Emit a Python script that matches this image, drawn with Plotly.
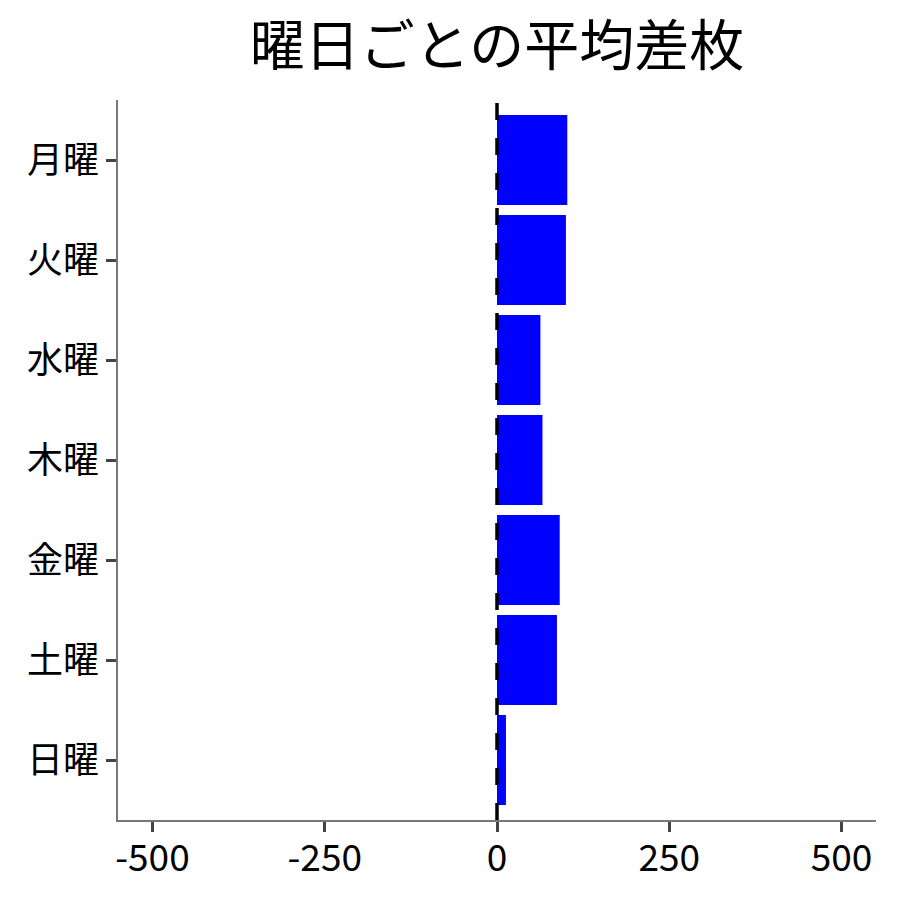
import plotly.graph_objects as go

days = ["月曜", "火曜", "水曜", "木曜", "金曜", "土曜", "日曜"]
avg_diff = [102, 100, 63, 66, 91, 87, 13]
x_ticks = [-500, -250, 0, 250, 500]
title_text = "曜日ごとの平均差枚"

FONT = "Noto Sans CJK JP"

fig = go.Figure()
fig.add_trace(go.Bar(
    x=avg_diff, y=days, orientation="h",
    marker=dict(color="#0000ff", line=dict(width=0)),
    width=0.9,
))
fig.add_shape(type="line", xref="x", yref="paper", x0=0, x1=0, y0=0, y1=1,
              line=dict(color="black", width=3.5, dash="17px,18px"), layer="above")

W = 892
fig.update_layout(
    width=W, height=W,
    margin=dict(l=110, r=W - 868, t=92, b=W - 812),
    paper_bgcolor="white", plot_bgcolor="white",
    font=dict(family=FONT, color="black"),
    title=dict(text=title_text, xref="paper", x=0.5, xanchor="center",
               y=1 - 38 / W, yanchor="middle",
               font=dict(family=FONT, size=55, color="black")),
    showlegend=False,
    xaxis=dict(range=[-550, 550], tickvals=x_ticks, ticktext=[str(v) for v in x_ticks],
               showgrid=False, zeroline=False, showline=True, linecolor="#777777", linewidth=1.5,
               ticks="outside", ticklen=10, tickwidth=3, tickcolor="#444444",
               ticklabelstandoff=-5,
               tickfont=dict(family=FONT, size=37, color="black")),
    yaxis=dict(categoryorder="array", categoryarray=days, range=[6.6, -0.6],
               showgrid=False, zeroline=False, showline=True, linecolor="#777777", linewidth=1.5,
               ticks="outside", ticklen=10, tickwidth=3, tickcolor="#444444",
               ticklabelstandoff=0,
               tickfont=dict(family=FONT, size=36, color="black")),
)
fig.write_html("out.html")
